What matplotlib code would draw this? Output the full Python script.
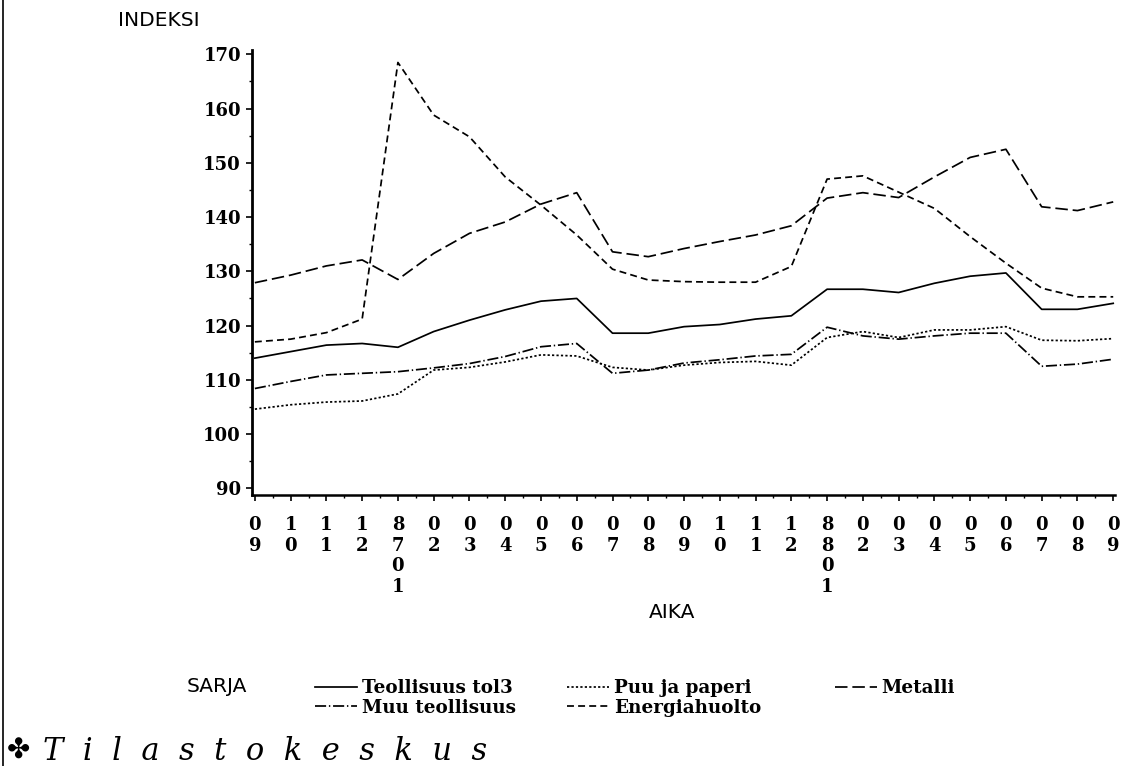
import numpy as np
import matplotlib as mpl
mpl.use('Agg')
import matplotlib.pyplot as plt
from matplotlib.lines import Line2D

# Monthly index values, 1986/09 -> 1988/09
months = ['09','10','11','12','8701','02','03','04','05','06','07','08',
          '09','10','11','12','8801','02','03','04','05','06','07','08','09']

teollisuus = [114.0,115.2,116.4,116.7,116.0,118.9,121.0,122.9,124.5,125.0,118.6,118.6,
              119.8,120.2,121.2,121.8,126.7,126.7,126.1,127.8,129.1,129.7,123.0,123.0,124.1]
puu        = [104.6,105.4,105.9,106.1,107.4,111.8,112.3,113.3,114.6,114.4,112.3,111.8,
              112.7,113.2,113.4,112.7,117.8,118.9,117.8,119.2,119.2,119.8,117.3,117.2,117.6]
metalli    = [127.9,129.3,131.0,132.1,128.5,133.3,137.0,139.1,142.4,144.5,133.6,132.7,
              134.2,135.5,136.7,138.4,143.5,144.5,143.6,147.4,151.0,152.5,141.9,141.2,142.8]
muu        = [108.4,109.7,110.9,111.2,111.5,112.2,113.0,114.3,116.1,116.7,111.2,111.8,
              113.1,113.7,114.4,114.7,119.7,118.1,117.5,118.1,118.6,118.6,112.5,112.9,113.8]
energia    = [117.0,117.5,118.7,121.2,168.5,158.8,154.8,147.4,142.2,136.7,130.4,128.4,
              128.1,128.0,128.0,130.9,147.0,147.6,144.6,141.6,136.4,131.5,126.9,125.3,125.3]

yticks = [90,100,110,120,130,140,150,160,170]

rDPI = 100
mpl.rcParams['lines.scale_dashes'] = False

cfont_tck  = { 'family':'DejaVu Serif', 'weight':'bold', 'size':13 }
cfont_leg  = { 'family':'DejaVu Serif', 'weight':'bold', 'size':13.2 }
cfont_axis = { 'family':'DejaVu Sans',  'weight':'normal', 'size':14.5 }

fig = plt.figure(figsize=(1125/rDPI, 766/rDPI), dpi=rDPI, facecolor='w')
ax = fig.add_axes([252/1125, (766-495)/766, (1115-252)/1125, (495-50)/766])

xx = np.arange(len(months))
lw = 1.25
l1, = ax.plot(xx, teollisuus, color='k', lw=lw, ls='-')
l2, = ax.plot(xx, puu,        color='k', lw=lw, ls=(0, (1.6, 1.6)))
l3, = ax.plot(xx, metalli,    color='k', lw=lw, ls=(0, (9., 3.5)))
l4, = ax.plot(xx, muu,        color='k', lw=lw, ls=(0, (8., 2., 1., 2.)))
l5, = ax.plot(xx, energia,    color='k', lw=lw, ls=(0, (5., 3.)))

ax.set_xlim(-0.08, 24.05)
ax.set_ylim(88.77, 170.8)

for cs in ['top','right']:
    ax.spines[cs].set_visible(False)
ax.spines['left'].set_linewidth(2.)
ax.spines['bottom'].set_linewidth(1.8)

ax.set_xticks(xx)
ax.set_xticks(xx[:-1]+0.5, minor=True)
ax.set_xticklabels(['\n'.join(list(cm)) for cm in months], linespacing=1.2, **cfont_tck)
ax.set_yticks(yticks)
ax.set_yticks(np.arange(95, 170, 10), minor=True)
ax.set_yticklabels([str(v) for v in yticks], **cfont_tck)
ax.tick_params(which='major', direction='out', length=4, width=1.2, colors='k')
ax.tick_params(which='minor', direction='out', length=2.5, width=1.)
ax.tick_params(axis='x', which='major', pad=11)
ax.tick_params(axis='y', which='major', pad=4)

fig.text(118/1125, 1-20/766, 'INDEKSI', va='center', ha='left', **cfont_axis)
fig.text(672/1125, 1-612/766, 'AIKA', va='center', ha='center', **cfont_axis)
fig.text(187/1125, 1-686/766, 'SARJA', va='center', ha='left', **cfont_axis)

# legend, one block per column
kleg = dict(frameon=False, handlelength=2.3, handletextpad=0.25, labelspacing=0.1,
            borderpad=0., borderaxespad=0., prop=cfont_leg, loc='upper left')
fig.legend([l1, l4], ['Teollisuus tol3', 'Muu teollisuus'], bbox_to_anchor=(315/1125, 1-679/766), **kleg)
fig.legend([l2, l5], ['Puu ja paperi', 'Energiahuolto'],    bbox_to_anchor=(567/1125, 1-679/766), **kleg)
fig.legend([l3],     ['Metalli'],                           bbox_to_anchor=(835/1125, 1-679/766), **kleg)

# logo at bottom left
fig.text(7/1125, 1-751/766, '\u2724', va='center', ha='left', family='DejaVu Sans', size=20)
fig.text(43/1125, 1-752/766, '  '.join(list('Tilastokeskus')), va='center', ha='left',
         family='DejaVu Serif', style='italic', size=22)

fig.add_artist(Line2D([3/1125, 3/1125], [0., 1.], color='k', lw=1.2))

plt.savefig('out.png', dpi=rDPI, facecolor='w')
plt.close(fig)
